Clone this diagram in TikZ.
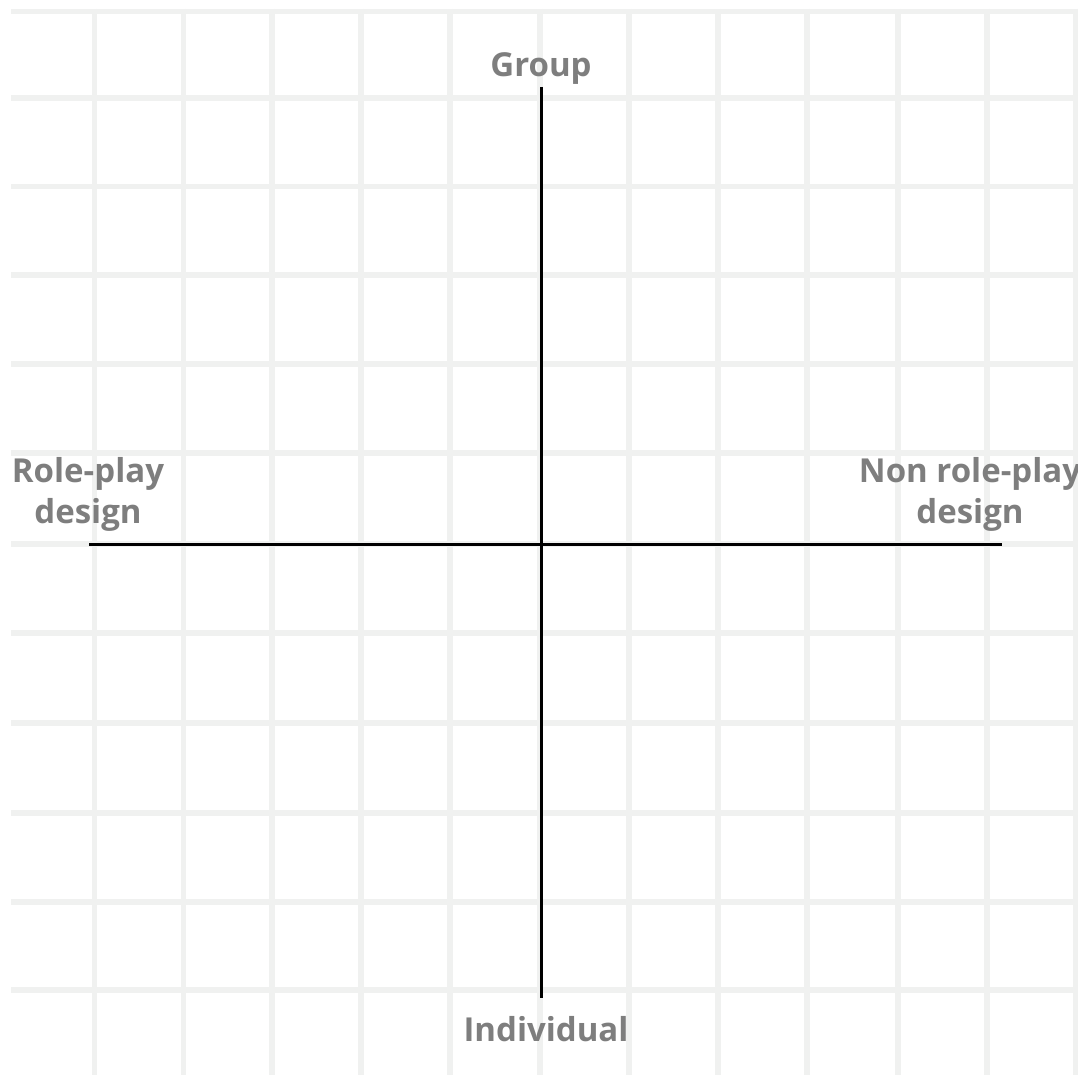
\documentclass[tikz,border=0pt]{standalone}
\usepackage{fontspec}
\setmainfont{Open Sans}
\definecolor{gridgray}{RGB}{240,241,240}
\definecolor{labelgray}{RGB}{126,126,126}
\begin{document}
\begin{tikzpicture}[x=1pt,y=-1pt,
  gridline/.style={draw=gridgray,line width=5.5pt},
  axis/.style={draw=black,line width=3pt},
  lbl/.style={text=labelgray,font=\fontsize{33}{41}\selectfont\bfseries,align=center,inner sep=0pt,anchor=base}]
\useasboundingbox[fill=white] (0,0) rectangle (1078,1075);
% grid
\foreach \y in {11.5,98,186.5,275,364,453,544,633,723,813,902,990}
  \draw[gridline] (11,\y) -- (1078,\y);
\foreach \x in {94.5,183.5,272,361,450,540,629,718,807,898,987,1075.5}
  \draw[gridline] (\x,9) -- (\x,1075);
% axes
\coordinate (top) at (541,87);
\coordinate (bottom) at (541,998);
\coordinate (left) at (89,544);
\coordinate (right) at (1002,544);
\draw[axis] (top) -- (bottom);
\draw[axis] (left) -- (right);
% labels
\node[lbl] (group) at (541,77) {Group};
\node[lbl] (indiv) at (546,1041) {Individual};
\node[lbl] (roleplay) at (88,523) {Role-play\\design};
\node[lbl] (nonroleplay) at (970,523) {Non role-play\\design};
\end{tikzpicture}
\end{document}
